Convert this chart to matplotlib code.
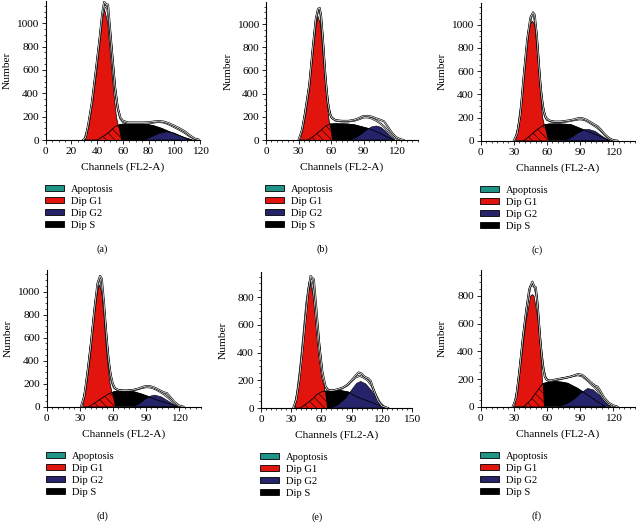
import matplotlib.pyplot as plt
from matplotlib.patches import Patch
from matplotlib.ticker import MultipleLocator

plt.rcParams['font.family'] = ['Liberation Serif', 'DejaVu Serif']
plt.rcParams['hatch.linewidth'] = 0.4

RED = '#e2150e'
NAVY = '#25246a'
TEAL = '#1d9486'

# ---- data (channel, count) ----
captions = ['(a)', '(b)', '(c)', '(d)', '(e)', '(f)']
legend_labels = ['Apoptosis', 'Dip G1', 'Dip G2', 'Dip S']
x_max = [120, 140, 140, 140, 150, 140]
x_major = [20, 30, 30, 30, 30, 30]
y_max = [1190, 1190, 1190, 1190, 985, 990]

g1_ch = [
    [30.8, 34.7, 37.3, 39.7, 41.5, 43.3, 45.7, 48.3, 49.8, 51.4, 53, 55, 58.7],
    [31, 36.3, 39.4, 41.5, 44, 46.5, 48, 50.2, 52, 53.8, 55.7, 57.8, 61],
    [31, 36, 37.8, 39.3, 41.4, 44.7, 46.9, 49, 51, 52.9, 54.4, 56, 61],
    [31.7, 36.3, 39.3, 41.4, 43.5, 46, 47.8, 49.9, 52, 53.2, 55, 57.4, 62],
    [33.4, 38, 40.7, 43, 46.4, 49, 52.3, 56.6, 59.3, 62.3, 65.6],
    [30.2, 34.8, 37.8, 40.8, 45.3, 46.9, 48.4, 52.6, 54.4, 55.9, 57.4],
]
g1_n = [
    [0, 200, 400, 600, 800, 1000, 1120, 1000, 800, 600, 400, 200, 0],
    [0, 200, 400, 605, 807, 1000, 1066, 1000, 807, 605, 400, 200, 0],
    [0, 207, 400, 605, 807, 1000, 1030, 1000, 807, 605, 400, 207, 0],
    [0, 203, 406, 609, 812, 1000, 1058, 1000, 812, 609, 406, 203, 0],
    [0, 200, 400, 600, 800, 901, 800, 600, 400, 200, 0],
    [0, 200, 400, 600, 800, 810, 800, 600, 400, 200, 0],
]

s_ch = [
    [40, 46, 50, 54, 58, 62, 70, 78, 84, 90, 96, 102, 108, 114],
    [39, 45, 50, 55, 59, 65, 75, 82, 88, 95, 104, 112, 118],
    [39, 45, 51, 57, 62, 72, 82, 90, 100, 109, 117],
    [38, 44, 50, 56, 61, 70, 79, 86, 91, 100, 112, 118],
    [39, 45, 51, 56, 61, 70, 80, 87, 94, 107, 120, 127],
    [39, 45, 50, 56, 62, 67, 73, 79, 88, 97, 106, 113],
]
s_n = [
    [0, 40, 75, 115, 133, 138, 140, 135, 122, 100, 72, 45, 20, 0],
    [0, 40, 80, 120, 138, 140, 138, 130, 115, 98, 63, 25, 0],
    [0, 45, 95, 135, 144, 145, 138, 107, 69, 35, 0],
    [0, 35, 75, 110, 130, 133, 130, 110, 93, 58, 23, 0],
    [0, 30, 65, 100, 120, 125, 125, 115, 84, 48, 12, 0],
    [0, 45, 100, 165, 180, 182, 178, 169, 132, 84, 36, 0],
]

g2_ch = [
    [76, 82, 88, 94, 100, 106, 112],
    [76, 82, 88, 94, 98, 102, 106, 110, 114, 119],
    [76, 82, 88, 94, 98, 104, 110, 116],
    [78, 84, 90, 95, 98, 104, 110, 115, 119],
    [69, 76, 84, 90, 95, 99, 104, 110, 116, 123.5],
    [70, 78, 85, 91, 97, 102, 108, 113, 118],
]
g2_n = [
    [0, 25, 55, 70, 60, 30, 0],
    [0, 15, 50, 95, 115, 121, 110, 80, 40, 0],
    [0, 25, 65, 95, 98, 80, 40, 0],
    [0, 25, 70, 95, 101, 85, 50, 20, 0],
    [0, 20, 70, 130, 178, 192, 175, 125, 55, 0],
    [0, 20, 55, 100, 132, 122, 80, 35, 0],
]

apo_ch = [[], [], [], [], [], [30, 33, 36, 39, 42, 44]]
apo_n = [[], [], [], [], [], [0, 120, 330, 520, 640, 0]]

data_ch = [
    [29, 31, 33, 36, 39, 42, 44, 45.5, 47, 48.5, 50, 52, 54, 56, 58, 60, 64, 70, 76, 80, 84, 88, 92, 96, 100, 104, 108, 112, 116, 120],
    [30, 33, 36, 40, 43, 46, 48, 49.5, 51, 53, 55, 57, 59, 61, 64, 70, 76, 82, 86, 90, 94, 98, 102, 106, 109, 112, 116, 120, 124, 127],
    [30, 33, 36, 39, 42, 45, 47.5, 49, 51, 53, 55, 57, 59, 62, 66, 72, 78, 84, 88, 92, 96, 100, 103, 106, 109, 112, 116, 120, 124],
    [31, 34, 37, 40, 43, 46, 48.4, 50, 52, 54, 56, 58, 60, 62, 66, 72, 78, 84, 88, 91, 94, 98, 102, 106, 109, 112, 116, 120, 124],
    [32, 35, 38, 41, 44, 47, 49.3, 51, 52.5, 55, 58, 61, 64, 66, 70, 76, 82, 86, 90, 94, 97, 100, 103, 106, 109, 112, 116, 120, 126],
    [29, 32, 35, 38, 41, 44, 46.9, 48.5, 50, 52, 54, 56, 58, 60, 64, 70, 76, 82, 88, 92, 96, 100, 104, 106, 108, 112, 116, 120, 124],
]
data_n = [
    [0, 20, 130, 330, 600, 880, 1090, 1185, 1160, 1160, 960, 700, 450, 280, 195, 165, 150, 150, 150, 152, 158, 162, 157, 142, 122, 100, 75, 40, 12, 0],
    [0, 80, 230, 480, 780, 1050, 1130, 1140, 1060, 810, 530, 330, 225, 188, 172, 165, 165, 175, 190, 207, 208, 200, 185, 172, 160, 120, 65, 25, 6, 0],
    [0, 60, 230, 560, 860, 1060, 1107, 1085, 900, 620, 400, 265, 200, 175, 165, 165, 172, 182, 193, 195, 180, 158, 140, 125, 95, 60, 25, 5, 0],
    [0, 90, 300, 540, 820, 1070, 1136, 1110, 900, 640, 420, 280, 200, 160, 142, 140, 145, 160, 175, 180, 178, 165, 145, 125, 118, 85, 40, 10, 0],
    [0, 60, 200, 400, 630, 850, 954, 940, 930, 720, 450, 260, 160, 132, 125, 135, 150, 170, 200, 235, 257, 248, 225, 216, 195, 130, 55, 15, 0],
    [0, 60, 250, 480, 680, 850, 904, 870, 863, 700, 480, 320, 220, 192, 190, 200, 208, 218, 236, 230, 205, 175, 150, 145, 120, 65, 30, 10, 0],
]

fit_ch = [
    [30, 33, 36, 39, 42, 44, 46, 48, 50, 52, 54, 56, 58, 60, 64, 70, 76, 80, 84, 88, 92, 96, 100, 104, 108, 112, 116, 119],
    [31, 34, 37, 40, 43, 46, 48, 50, 52, 54, 56, 58, 60, 64, 70, 76, 82, 86, 90, 94, 98, 102, 106, 110, 114, 118, 122, 125],
    [31, 34, 37, 40, 43, 46, 48, 50, 52, 54, 56, 58, 60, 64, 70, 76, 82, 86, 90, 94, 98, 102, 106, 110, 114, 118, 121],
    [32, 35, 38, 41, 44, 47, 49, 51, 53, 55, 57, 59, 61, 64, 70, 76, 82, 86, 90, 94, 98, 102, 106, 110, 114, 118, 122],
    [33, 36, 39, 42, 45, 48, 50, 52, 54, 56, 58, 61, 64, 68, 74, 80, 86, 90, 94, 98, 102, 106, 110, 114, 118, 122, 125],
    [30, 33, 36, 39, 42, 45, 47.5, 49, 51, 53, 55, 57, 59, 62, 66, 72, 78, 84, 88, 92, 96, 100, 104, 108, 112, 116, 120, 123],
]
fit_n = [
    [0, 110, 310, 580, 860, 1060, 1150, 1120, 940, 690, 440, 270, 185, 155, 142, 140, 140, 143, 150, 155, 150, 133, 110, 88, 62, 32, 8, 0],
    [0, 110, 290, 470, 760, 1030, 1115, 1110, 920, 650, 420, 270, 200, 168, 160, 160, 168, 180, 195, 195, 185, 165, 140, 105, 60, 25, 5, 0],
    [0, 110, 330, 640, 920, 1075, 1090, 980, 760, 500, 320, 220, 180, 165, 160, 162, 172, 180, 185, 180, 160, 135, 110, 75, 35, 8, 0],
    [0, 140, 370, 620, 900, 1090, 1095, 960, 740, 510, 330, 215, 165, 145, 138, 140, 150, 162, 170, 168, 155, 135, 110, 80, 45, 15, 0],
    [0, 110, 290, 510, 750, 905, 925, 850, 700, 530, 380, 220, 150, 125, 128, 140, 165, 195, 222, 233, 220, 200, 160, 95, 40, 10, 0],
    [0, 110, 320, 540, 730, 870, 880, 860, 790, 580, 400, 270, 205, 185, 188, 200, 210, 222, 228, 220, 195, 165, 135, 95, 50, 18, 4, 0],
]

# ---- layout in pixels: axes left, baseline y, width, height ----
W, H = 636, 523
boxes = [
    (45.7, 140, 154.3, 139),
    (266, 140, 151.7, 138),
    (480.7, 140.7, 154.4, 138),
    (46.7, 406.7, 154.4, 137),
    (261, 408, 151, 136.3),
    (480.7, 406.7, 154.4, 137),
]

fig = plt.figure(figsize=(W / 100, H / 100), dpi=100)

for i in range(6):
    left, base, w, h = boxes[i]
    ax = fig.add_axes([left / W, (H - base) / H, w / W, h / H])

    if apo_ch[i]:
        ax.fill(apo_ch[i], apo_n[i], fc=TEAL, ec='none')
    ax.fill(s_ch[i], s_n[i], fc='black', ec='black', lw=0.5)
    ax.fill(g2_ch[i], g2_n[i], fc=NAVY, ec='black', lw=0.4)
    ax.plot(s_ch[i], s_n[i], color='black', lw=0.6)
    g1 = ax.fill(g1_ch[i], g1_n[i], fc=RED, ec='black', lw=0.5)[0]
    # S phase overlapping G1: red with diagonal hatching
    hatch = ax.fill(s_ch[i], s_n[i], fc=RED, ec='black', lw=0, hatch='\\\\\\\\')[0]
    hatch.set_clip_path(g1)

    for cx, cy in ((fit_ch[i], fit_n[i]), (data_ch[i], data_n[i])):
        ax.plot(cx, cy, color='black', lw=1.4, solid_joinstyle='round')
        ax.plot(cx, cy, color='white', lw=0.5, solid_joinstyle='round')

    ax.set_xlim(0, x_max[i])
    ax.set_ylim(0, y_max[i])
    ax.xaxis.set_major_locator(MultipleLocator(x_major[i]))
    ax.xaxis.set_minor_locator(MultipleLocator(5))
    ax.yaxis.set_major_locator(MultipleLocator(200))
    ax.yaxis.set_minor_locator(MultipleLocator(50))
    ax.spines['top'].set_visible(False)
    ax.spines['right'].set_visible(False)
    for sp in ('left', 'bottom'):
        ax.spines[sp].set_linewidth(0.8)
    ax.tick_params(which='major', direction='out', length=3, width=0.6,
                   labelsize=8.2, pad=2)
    ax.tick_params(which='minor', direction='out', length=1.6, width=0.5)

    ax.set_xlabel('Channels (FL2-A)', fontsize=8.2)
    ax.set_ylabel('Number', fontsize=8.2)
    ax.xaxis.set_label_coords(0.5, -27 / h)
    ax.xaxis.label.set_verticalalignment('center')
    ax.yaxis.set_label_coords(-38 / w, 0.5)
    ax.yaxis.label.set_verticalalignment('center')

    handles = [Patch(fc=c, ec='black', lw=0.6) for c in (TEAL, RED, NAVY, 'black')]
    fig.legend(handles, legend_labels, loc='upper left',
               bbox_to_anchor=((left - 1) / W, 1 - (base + 45) / H),
               bbox_transform=fig.transFigure, frameon=False, fontsize=7.6,
               handlelength=1.8, handleheight=0.5, handletextpad=0.7,
               labelspacing=0.28, borderpad=0, borderaxespad=0)

    fig.text((left + 56) / W, 1 - (base + 109) / H, captions[i],
             ha='center', va='center', fontsize=7.3)

fig.savefig('out.png', dpi=100, facecolor='white')
